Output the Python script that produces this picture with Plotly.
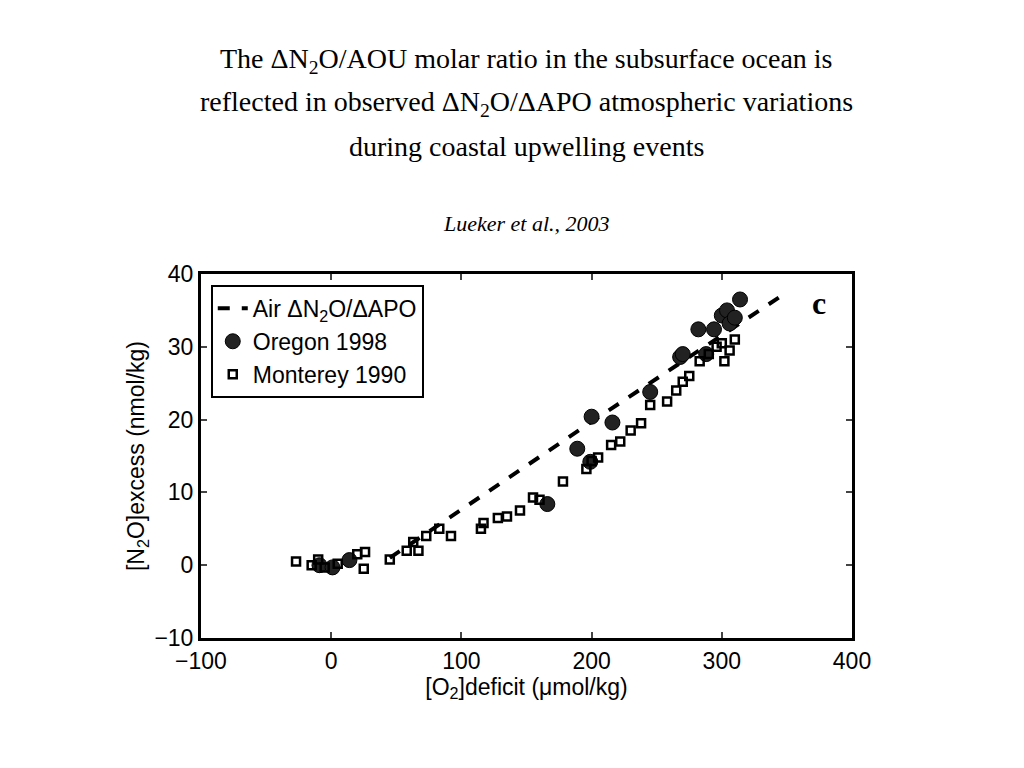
import plotly.graph_objects as go

# Oregon 1998 (circles)
oregon_x = [-9, 1, 14, 166, 189, 199, 200, 216, 245, 268, 270, 282, 288, 294, 300, 304, 306, 310, 314]
oregon_y = [0, -0.3, 0.7, 8.4, 16, 14.2, 20.4, 19.6, 23.8, 28.6, 29, 32.4, 29, 32.4, 34.3, 35, 33.2, 34, 36.5]

# Monterey 1990 (squares)
monterey_x = [-27, -15, -10, -5, 5, 20, 26, 25, 45, 58, 63, 67, 73, 83, 92, 115, 117, 128, 135, 145,
              155, 160, 178, 196, 200, 205, 215, 222, 230, 238, 245, 258, 265, 270, 275, 283, 290, 296,
              300, 302, 306, 310]
monterey_y = [0.5, 0, 0.8, -0.3, 0.2, 1.5, 1.8, -0.5, 0.8, 2, 3.2, 2, 4, 5, 4, 5, 5.8, 6.5, 6.7, 7.5,
              9.3, 9, 11.5, 13.2, 14.3, 14.8, 16.5, 17, 18.5, 19.5, 22, 22.5, 24, 25.2, 26, 28, 29, 30,
              30.5, 28, 29.5, 31]

# Air dN2O/dAPO line
air_x = [45, 200, 350]
air_y = [1, 19.7, 37.5]

title_lines = ["The ΔN<sub>2</sub>O/AOU molar ratio in the subsurface ocean is",
               "reflected in observed ΔN<sub>2</sub>O/ΔAPO atmospheric variations",
               "during coastal upwelling events"]

fig = go.Figure()
fig.add_trace(go.Scatter(x=air_x, y=air_y, mode='lines', name='Air ΔN<sub>2</sub>O/ΔAPO',
                         line=dict(color='black', width=4, dash='dash')))
fig.add_trace(go.Scatter(x=oregon_x, y=oregon_y, mode='markers', name='Oregon 1998',
                         marker=dict(symbol='circle', size=15, color='#222',
                                     line=dict(color='black', width=1))))
fig.add_trace(go.Scatter(x=monterey_x, y=monterey_y, mode='markers', name='Monterey 1990',
                         marker=dict(symbol='square-open', size=8, color='black',
                                     line=dict(color='black', width=2.5))))

serif = "Liberation Serif, Times New Roman, serif"
sans = "Liberation Sans, Arial, sans-serif"

annots = []
for i, line in enumerate(title_lines):
    annots.append(dict(text=line, xref='paper', yref='paper', x=0.5, y=1, xanchor='center',
                       yanchor='middle', yshift=214 - 43 * i, showarrow=False,
                       font=dict(family=serif, size=28, color='black')))
annots.append(dict(text="<i>Lueker et al., 2003</i>", xref='paper', yref='paper', x=0.5, y=1,
                   xanchor='center', yanchor='middle', yshift=51, showarrow=False,
                   font=dict(family=serif, size=22, color='black')))
annots.append(dict(text="<b>c</b>", xref='x', yref='y', x=375, y=36, showarrow=False,
                   font=dict(family=serif, size=32, color='black')))

fig.update_layout(
    width=1024, height=768,
    paper_bgcolor='white', plot_bgcolor='white',
    margin=dict(l=193, r=180, t=266, b=138),
    showlegend=True,
    legend=dict(x=0.015, y=0.97, xanchor='left', yanchor='top',
                bordercolor='black', borderwidth=2, bgcolor='white',
                font=dict(family=sans, size=23, color='black'), tracegroupgap=0),
    annotations=annots,
)
fig.update_xaxes(range=[-100, 400], tickvals=[-100, 0, 100, 200, 300, 400],
                 showgrid=False, zeroline=False, showline=True, linecolor='black', linewidth=3,
                 mirror='ticks', ticks='inside', ticklen=6, tickwidth=2,
                 tickfont=dict(family=sans, size=23, color='black'),
                 title=dict(text='[O<sub>2</sub>]deficit (μmol/kg)', standoff=2,
                            font=dict(family=sans, size=23, color='black')))
fig.update_yaxes(range=[-10, 40], tickvals=[-10, 0, 10, 20, 30, 40],
                 showgrid=False, zeroline=False, showline=True, linecolor='black', linewidth=3,
                 mirror='ticks', ticks='inside', ticklen=6, tickwidth=2,
                 tickfont=dict(family=sans, size=23, color='black'),
                 title=dict(text='[N<sub>2</sub>O]excess (nmol/kg)', standoff=4,
                            font=dict(family=sans, size=23, color='black')))

fig.write_html("out.html")
